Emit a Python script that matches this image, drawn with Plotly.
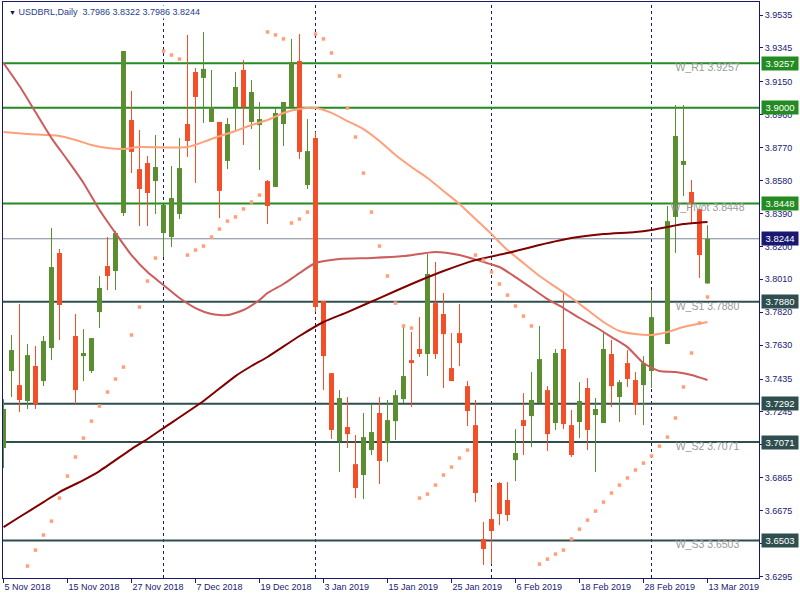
import plotly.graph_objects as go
import datetime as _dt

# ---------------- data ----------------
dates = ("2018-11-05 2018-11-06 2018-11-07 2018-11-08 2018-11-09 2018-11-12 2018-11-13 2018-11-14 2018-11-15 2018-11-16 "
         "2018-11-19 2018-11-20 2018-11-21 2018-11-22 2018-11-23 2018-11-26 2018-11-27 2018-11-28 2018-11-29 2018-11-30 "
         "2018-12-03 2018-12-04 2018-12-05 2018-12-06 2018-12-07 2018-12-10 2018-12-11 2018-12-12 2018-12-13 2018-12-14 "
         "2018-12-17 2018-12-18 2018-12-19 2018-12-20 2018-12-21 2018-12-24 2018-12-26 2018-12-27 2018-12-28 2019-01-02 "
         "2019-01-03 2019-01-04 2019-01-07 2019-01-08 2019-01-09 2019-01-10 2019-01-11 2019-01-14 2019-01-15 2019-01-16 "
         "2019-01-17 2019-01-18 2019-01-21 2019-01-22 2019-01-23 2019-01-24 2019-01-25 2019-01-28 2019-01-29 2019-01-30 "
         "2019-01-31 2019-02-01 2019-02-04 2019-02-05 2019-02-06 2019-02-07 2019-02-08 2019-02-11 2019-02-12 2019-02-13 "
         "2019-02-14 2019-02-15 2019-02-18 2019-02-19 2019-02-20 2019-02-21 2019-02-22 2019-02-25 2019-02-26 2019-02-27 "
         "2019-02-28 2019-03-01 2019-03-04 2019-03-06 2019-03-07 2019-03-08 2019-03-11 2019-03-12 2019-03-13").split()

opens = [3.7037, 3.7481, 3.7400, 3.7308, 3.7510, 3.7423, 3.7614, 3.8162, 3.7839, 3.7683,
         3.7567, 3.7481, 3.7821, 3.8087, 3.8058, 3.8393, 3.8929, 3.8646, 3.8681, 3.8577,
         3.8277, 3.8254, 3.8387, 3.8906, 3.9206, 3.9172, 3.8918, 3.8918, 3.8693, 3.9004,
         3.9218, 3.8918, 3.8900, 3.8577, 3.8543, 3.8906, 3.9004, 3.9270, 3.8554, 3.8825,
         3.7885, 3.7469, 3.7077, 3.7158, 3.6944, 3.6881, 3.7025, 3.7239, 3.7065, 3.7192,
         3.7319, 3.7544, 3.7608, 3.7579, 3.7873, 3.7810, 3.7498, 3.7700, 3.7394, 3.7169,
         3.6512, 3.6627, 3.6835, 3.6737, 3.6967, 3.7198, 3.7221, 3.7296, 3.7371, 3.7181,
         3.7608, 3.7169, 3.7187, 3.7383, 3.7227, 3.7181, 3.7579, 3.7331, 3.7527, 3.7429,
         3.7400, 3.7481, 3.7746, 3.7637, 3.8370, 3.8670, 3.8514, 3.8416, 3.7986]
highs = [3.7319, 3.7689, 3.7868, 3.7637, 3.7625, 3.7683, 3.8306, 3.8185, 3.7839, 3.7810,
         3.7723, 3.7671, 3.8029, 3.8254, 3.8289, 3.9327, 3.9097, 3.8871, 3.8721, 3.8843,
         3.8439, 3.8664, 3.8825, 3.9420, 3.9229, 3.9437, 3.9218, 3.8918, 3.8941, 3.9206,
         3.9275, 3.9160, 3.9033, 3.8583, 3.8998, 3.9033, 3.9397, 3.9425, 3.8935, 3.8860,
         3.7885, 3.7469, 3.7371, 3.7331, 3.7112, 3.7239, 3.7291, 3.7331, 3.7314, 3.7371,
         3.7735, 3.7706, 3.7792, 3.8156, 3.8110, 3.7931, 3.7700, 3.7868, 3.7423, 3.7314,
         3.6610, 3.6812, 3.6840, 3.6840, 3.7146, 3.7354, 3.7475, 3.7741, 3.7394, 3.7608,
         3.7942, 3.7256, 3.7417, 3.7440, 3.7325, 3.7712, 3.7660, 3.7429, 3.7602, 3.7475,
         3.7567, 3.7948, 3.7746, 3.8433, 3.9016, 3.9016, 3.8583, 3.8416, 3.8322]
lows = [3.6921, 3.7331, 3.7244, 3.7262, 3.7262, 3.7394, 3.7544, 3.7660, 3.7839, 3.7291,
        3.7423, 3.7469, 3.7729, 3.7948, 3.7948, 3.8375, 3.8623, 3.8318, 3.8318, 3.8387,
        3.8139, 3.8196, 3.8358, 3.8716, 3.8566, 3.8912, 3.8918, 3.8364, 3.8646, 3.8871,
        3.8785, 3.8877, 3.8641, 3.8329, 3.8543, 3.8779, 3.9004, 3.8704, 3.8531, 3.7821,
        3.7371, 3.7089, 3.6898, 3.7037, 3.6748, 3.6742, 3.6996, 3.6829, 3.6956, 3.7083,
        3.7296, 3.7273, 3.7562, 3.7452, 3.7550, 3.7383, 3.7423, 3.7510, 3.7164, 3.6725,
        3.6362, 3.6367, 3.6592, 3.6615, 3.6846, 3.6996, 3.7042, 3.7296, 3.7019, 3.7141,
        3.7146, 3.6985, 3.7094, 3.7025, 3.6898, 3.7181, 3.7273, 3.7187, 3.7389, 3.7227,
        3.7169, 3.7383, 3.7746, 3.7637, 3.8162, 3.8491, 3.8335, 3.8018, 3.7986]
closes = [3.7262, 3.7602, 3.7314, 3.7573, 3.7291, 3.7654, 3.8081, 3.7862, 3.7839, 3.7371,
          3.7585, 3.7671, 3.7960, 3.8029, 3.8277, 3.9327, 3.8745, 3.8531, 3.8508, 3.8658,
          3.8439, 3.8479, 3.8652, 3.8808, 3.9062, 3.9224, 3.9004, 3.8520, 3.8906, 3.9120,
          3.9004, 3.9091, 3.8935, 3.8433, 3.8970, 3.9033, 3.9264, 3.8745, 3.8750, 3.7850,
          3.7567, 3.7141, 3.7325, 3.7117, 3.6806, 3.7100, 3.7129, 3.6962, 3.7198, 3.7342,
          3.7452, 3.7533, 3.7579, 3.8041, 3.7579, 3.7694, 3.7423, 3.7642, 3.7250, 3.6777,
          3.6454, 3.6558, 3.6656, 3.6650, 3.7008, 3.7164, 3.7314, 3.7550, 3.7117, 3.7585,
          3.7175, 3.6996, 3.7308, 3.7141, 3.7262, 3.7608, 3.7394, 3.7417, 3.7435, 3.7285,
          3.7527, 3.7792, 3.7746, 3.8346, 3.8837, 3.8693, 3.8450, 3.8150, 3.8244]

# Parabolic SAR (None = off-chart)
sar = [None, None, None, 3.6356, 3.6448, 3.6535, 3.6615, 3.6748, 3.6875, 3.6985,
       3.7094, 3.7192, 3.7279, 3.7360, 3.7435, 3.7504, 3.7689, 3.7850, 3.8000, 3.8133,
       3.9327, 3.9304, 3.9281, 3.8150, 3.8179, 3.8202, 3.8254, 3.8300, 3.8346, 3.8370,
       3.8416, 3.8456, 3.8496, 3.9437, 3.9420, 3.9397, 3.8335, 3.8358, 3.8398, 3.9425,
       3.9397, 3.9316, 3.9183, 3.8998, 3.8831, 3.8623, 3.8398, 3.8202, 3.8029, 3.7873,
       3.7741, 3.7729, 3.6748, 3.6771, 3.6823, 3.6881, 3.6927, 3.6979, 3.7025, 3.8150,
       3.8121, 3.8052, 3.7983, 3.7919, 3.7856, 3.7798, 3.7741, 3.6367, 3.6396, 3.6425,
       3.6448, 3.6512, 3.6569, 3.6621, 3.6673, 3.6725, 3.6777, 3.6823, 3.6864, 3.6910,
       3.6950, 3.6991, 3.7048, 3.7100, 3.7210, 3.7389, 3.7585, 3.7758, 3.7908]

# moving averages, read at selected bars
ma_slow_idx = [0, 3, 7, 9, 11, 13, 15, 17, 23, 26, 29, 31, 33, 35, 37, 39, 41, 43, 45, 47,
               49, 51, 53, 55, 57, 59, 61, 63, 65, 67, 69, 71, 73, 75, 77, 79, 81, 83, 85, 88]
ma_slow_val = [3.8860, 3.8848, 3.8837, 3.8814, 3.8785, 3.8768, 3.8762, 3.8773, 3.8773, 3.8820,
               3.8866, 3.8900, 3.8929, 3.8970, 3.8993, 3.8998, 3.8970, 3.8923, 3.8877, 3.8808,
               3.8727, 3.8658, 3.8595, 3.8520, 3.8445, 3.8358, 3.8271, 3.8179, 3.8104, 3.8029,
               3.7966, 3.7902, 3.7833, 3.7764, 3.7712, 3.7694, 3.7689, 3.7706, 3.7735, 3.7764]
ma_mid_idx = [0, 2, 4, 6, 8, 10, 12, 14, 16, 18, 20, 22, 24, 26, 28, 30, 32, 33, 35, 37, 39,
              42, 46, 50, 54, 57, 60, 62, 64, 66, 68, 70, 72, 74, 76, 78, 80, 82, 84, 86, 88]
ma_mid_val = [3.9258, 3.9125, 3.8975, 3.8825, 3.8698, 3.8566, 3.8410, 3.8277, 3.8150, 3.8052,
              3.7977, 3.7902, 3.7844, 3.7810, 3.7804, 3.7833, 3.7891, 3.7931, 3.7983, 3.8046,
              3.8104, 3.8127, 3.8133, 3.8144, 3.8168, 3.8150, 3.8110, 3.8081, 3.8023, 3.7960,
              3.7896, 3.7844, 3.7787, 3.7735, 3.7677, 3.7619, 3.7527, 3.7481, 3.7475, 3.7458,
              3.7429]
ma_long_idx = [0, 2, 5, 7, 10, 12, 16, 18, 20, 25, 29, 31, 33, 37, 40, 43, 47, 51, 55, 59,
               63, 67, 71, 75, 79, 81, 83, 85, 88]
ma_long_val = [3.6581, 3.6639, 3.6725, 3.6783, 3.6852, 3.6904, 3.7031, 3.7089, 3.7152, 3.7308,
               3.7452, 3.7510, 3.7562, 3.7683, 3.7764, 3.7821, 3.7902, 3.7983, 3.8058, 3.8121,
               3.8162, 3.8208, 3.8248, 3.8271, 3.8283, 3.8295, 3.8312, 3.8329, 3.8341]

pivot_names = ["W_R1", "W_Pivot", "W_S1", "W_S2", "W_S3"]
pivot_values = [3.9257, 3.8448, 3.7880, 3.7071, 3.6503]
extra_levels = [3.9000, 3.7292]
bid_price = 3.8244

y_ticks = [3.9535, 3.9345, 3.9150, 3.8960, 3.8770, 3.8580, 3.8390, 3.8200, 3.8010, 3.7820,
           3.7630, 3.7435, 3.7245, 3.7055, 3.6865, 3.6675, 3.6485, 3.6295]
x_tick_step = 8

# ---------------- styles ----------------
NAVY = "#191970"
UP = "#5B8E30"
DOWN = "#F24F28"
GREEN_LVL = "#228B22"
SLATE_LVL = "#2F4F4F"
FONT = "Liberation Sans"

n = len(dates)
xs = list(range(n))
months = ["Jan", "Feb", "Mar", "Apr", "May", "Jun", "Jul", "Aug", "Sep", "Oct", "Nov", "Dec"]


def fmt_date(s):
    d = _dt.date.fromisoformat(s)
    return f"{d.day} {months[d.month - 1]} {d.year}"


tick_idx = list(range(0, n, x_tick_step))
tick_text = [fmt_date(dates[i]) for i in tick_idx]
month_starts = [i for i in range(1, n) if dates[i][5:7] != dates[i - 1][5:7]]

fig = go.Figure()

# level labels (drawn under candles)
fig.add_trace(go.Scatter(
    x=[n - 1] * len(pivot_values), y=pivot_values, mode="text",
    text=[f"{nm} {v:.4f}" for nm, v in zip(pivot_names, pivot_values)],
    textposition="bottom center",
    textfont=dict(family=FONT, size=10.5, color="#9A9A9A"),
    hoverinfo="skip"))

# wicks
for is_up, col in ((True, UP), (False, DOWN)):
    wx, wy = [], []
    for i in xs:
        if (closes[i] >= opens[i]) == is_up:
            wx += [i, i, None]
            wy += [lows[i], highs[i], None]
    fig.add_trace(go.Scatter(x=wx, y=wy, mode="lines",
                             line=dict(color=col, width=1), hoverinfo="skip"))

# bodies
fig.add_trace(go.Bar(
    x=xs,
    y=[abs(c - o) for o, c in zip(opens, closes)],
    base=[min(o, c) for o, c in zip(opens, closes)],
    width=0.62,
    marker=dict(color=[UP if c >= o else DOWN for o, c in zip(opens, closes)], line=dict(width=0)),
    hoverinfo="skip"))

# moving averages
fig.add_trace(go.Scatter(x=ma_slow_idx, y=ma_slow_val, mode="lines",
                         line=dict(color="#FFA07A", width=2, shape="spline", smoothing=0.6),
                         hoverinfo="skip"))
fig.add_trace(go.Scatter(x=ma_mid_idx, y=ma_mid_val, mode="lines",
                         line=dict(color="#CD5C5C", width=2, shape="spline", smoothing=0.6),
                         hoverinfo="skip"))
fig.add_trace(go.Scatter(x=ma_long_idx, y=ma_long_val, mode="lines",
                         line=dict(color="#800000", width=2, shape="spline", smoothing=0.6),
                         hoverinfo="skip"))

# parabolic SAR
fig.add_trace(go.Scatter(x=xs, y=sar, mode="markers",
                         marker=dict(symbol="square", size=3.5, color="#FFA07A"),
                         hoverinfo="skip"))

shapes = []
for i in month_starts:
    shapes.append(dict(type="line", xref="x", yref="paper", x0=i, x1=i, y0=0, y1=1,
                       line=dict(color=NAVY, width=1, dash="3px,3px"), layer="below"))
pivot_ref = pivot_values[pivot_names.index("W_Pivot")]
all_levels = pivot_values + extra_levels
annotations = []
for v in all_levels:
    col = GREEN_LVL if v >= pivot_ref else SLATE_LVL
    shapes.append(dict(type="line", xref="paper", yref="y", x0=0, x1=1, y0=v, y1=v,
                       line=dict(color=col, width=2), layer="below"))
    annotations.append(dict(xref="paper", yref="y", x=1, y=v, xanchor="left", yanchor="middle",
                            xshift=2, text=f"{v:.4f}", showarrow=False, bgcolor=col,
                            width=34, height=11, borderpad=1,
                            font=dict(family=FONT, size=9.5, color="white")))
shapes.append(dict(type="line", xref="paper", yref="y", x0=0, x1=1, y0=bid_price, y1=bid_price,
                   line=dict(color="#778899", width=1), layer="below"))
annotations.append(dict(xref="paper", yref="y", x=1, y=bid_price, xanchor="left", yanchor="middle",
                        xshift=2, text=f"{bid_price:.4f}", showarrow=False, bgcolor=NAVY,
                        width=34, height=11, borderpad=1,
                        font=dict(family=FONT, size=9.5, color="white")))

header = (f"<span style='font-size:7px;color:#111133'>▼</span> USDBRL,Daily\u00a0\u00a0"
          f"{opens[-1]:.4f} {highs[-1]:.4f} {lows[-1]:.4f} {closes[-1]:.4f}")
annotations.append(dict(xref="paper", yref="paper", x=0, y=1, xanchor="left", yanchor="top",
                        xshift=4, yshift=-3, text=header, showarrow=False, bgcolor="white",
                        font=dict(family=FONT, size=9, color="#27408B")))

fig.update_layout(
    width=800, height=600,
    margin=dict(l=3, r=41, t=2, b=22),
    paper_bgcolor="white", plot_bgcolor="white",
    showlegend=False, barmode="overlay",
    font=dict(family=FONT, size=9, color=NAVY),
    shapes=shapes, annotations=annotations,
)
fig.update_xaxes(range=[-0.0625, 94.4375], tickvals=tick_idx, ticktext=tick_text,
                 ticks="outside", ticklen=4, tickcolor=NAVY, ticklabelposition="outside right",
                 tickfont=dict(family=FONT, size=9, color=NAVY),
                 showgrid=False, zeroline=False, showline=True, linecolor=NAVY, linewidth=1,
                 mirror=True, fixedrange=True)
fig.update_yaxes(side="right", range=[3.6287, 3.9610], tickvals=y_ticks, tickformat=".4f",
                 ticks="outside", ticklen=3, tickcolor=NAVY,
                 tickfont=dict(family=FONT, size=9, color=NAVY),
                 showgrid=False, zeroline=False, showline=True, linecolor=NAVY, linewidth=1,
                 mirror=True, fixedrange=True)

fig.write_html("out.html", config={"displayModeBar": False},
               post_script="document.body.style.margin='0';document.body.style.overflow='hidden';")
